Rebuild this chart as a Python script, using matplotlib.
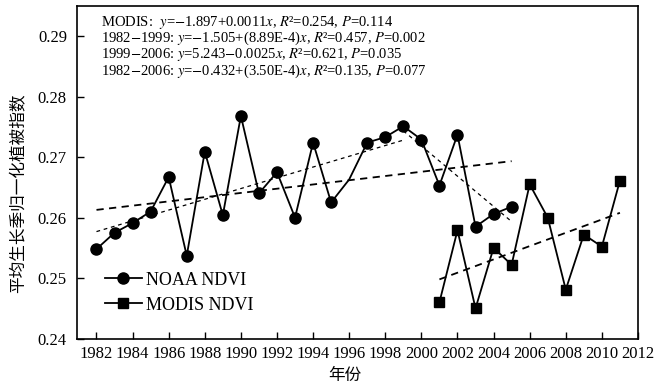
import matplotlib
matplotlib.use('Agg')
import matplotlib.pyplot as plt
import numpy as np

plt.rcParams['font.family'] = ['Liberation Serif', 'Noto Sans CJK SC']
plt.rcParams['mathtext.fontset'] = 'stix'

# NOAA NDVI, growing-season mean
noaa_years = list(range(1982, 2006))
noaa_ndvi = [0.2548, 0.2575, 0.2591, 0.2610, 0.2667, 0.2537, 0.2709, 0.2604,
             0.2768, 0.2640, 0.2675, 0.2600, 0.2724, 0.2625, 0.2663, 0.2724,
             0.2733, 0.2751, 0.2729, 0.2653, 0.2737, 0.2585, 0.2606, 0.2618]

# MODIS NDVI
modis_years = list(range(2001, 2012))
modis_ndvi = [0.2460, 0.2579, 0.2450, 0.2550, 0.2522, 0.2655, 0.2600, 0.2481,
              0.2572, 0.2552, 0.2661]

# trend periods and slopes from the regressions
trend_names = ['MODIS', '1982-1999', '1999-2006', '1982-2006']
trend_ranges = [(2001, 2011), (1982, 1999), (1999, 2005), (1982, 2005)]
trend_slopes = [0.0011, 8.89e-4, -0.0025, 3.50e-4]

eq_lines = [
    r'MODIS:  $y$=$-$1.897+0.0011$x$, $R$²=0.254, $P$=0.114',
    r'1982$-$1999: $y$=$-$1.505+(8.89E-4)$x$, $R$²=0.457, $P$=0.002',
    r'1999$-$2006: $y$=5.243$-$0.0025$x$, $R$²=0.621, $P$=0.035',
    r'1982$-$2006: $y$=$-$0.432+(3.50E-4)$x$, $R$²=0.135, $P$=0.077',
]

fig = plt.figure(figsize=(6.55, 3.87), dpi=100)
ax = fig.add_axes([0.117, 0.125, 0.857, 0.86])

skip = noaa_years.index(1996)
marks = [i for i in range(len(noaa_years)) if i != skip]
ax.plot(noaa_years, noaa_ndvi, color='black', lw=1.3, marker='o', ms=8,
        markevery=marks, label='NOAA NDVI', zorder=3)
ax.plot(modis_years, modis_ndvi, color='black', lw=1.3, marker='s', ms=7.5,
        label='MODIS NDVI', zorder=3)

# dashed trend lines, slope fixed, intercept through the period mean
styles = [dict(lw=1.3, dashes=(4, 3)), dict(lw=0.9, dashes=(3, 3)),
          dict(lw=0.9, dashes=(3, 3)), dict(lw=1.3, dashes=(4, 3))]
for (y0, y1), k, st in zip(trend_ranges, trend_slopes, styles):
    if y0 >= 2001:
        xs = np.array(modis_years, dtype=float)
        ys = np.array(modis_ndvi)
    else:
        xs = np.array(noaa_years, dtype=float)
        ys = np.array(noaa_ndvi)
    sel = (xs >= y0) & (xs <= y1)
    b = ys[sel].mean() - k * xs[sel].mean()
    xx = np.array([y0, y1], dtype=float)
    ax.plot(xx, b + k * xx, color='black', zorder=2, **st)

for i, s in enumerate(eq_lines):
    ax.text(0.044, 0.976 - i * 0.049, s, transform=ax.transAxes,
            fontsize=10.5, va='top', ha='left')

ax.set_xlim(1980.9, 2012)
ax.set_ylim(0.24, 0.295)
ax.set_xticks(range(1982, 2013, 2))
ax.set_yticks([0.24, 0.25, 0.26, 0.27, 0.28, 0.29])
ax.set_yticklabels(['0.24', '0.25', '0.26', '0.27', '0.28', '0.29'])
ax.tick_params(direction='in', length=5, width=1, labelsize=12,
               top=False, right=False)
ax.tick_params(axis='x', pad=5)
ax.tick_params(axis='y', pad=7)
for sp in ax.spines.values():
    sp.set_linewidth(1.2)

ax.set_xlabel('年份', fontsize=12, family=['Noto Sans CJK SC'])
ax.xaxis.set_label_coords(0.478, -0.085)
ax.set_ylabel('平均生长季归一化植被指数', fontsize=12,
              family=['Noto Sans CJK SC'])
ax.yaxis.set_label_coords(-0.088, 0.438)

ax.legend(loc='lower left', bbox_to_anchor=(0.037, 0.053), borderaxespad=0,
          frameon=False, fontsize=13, handlelength=2.05, handletextpad=0.25,
          labelspacing=0.45)

fig.savefig('out.png', dpi=100)
